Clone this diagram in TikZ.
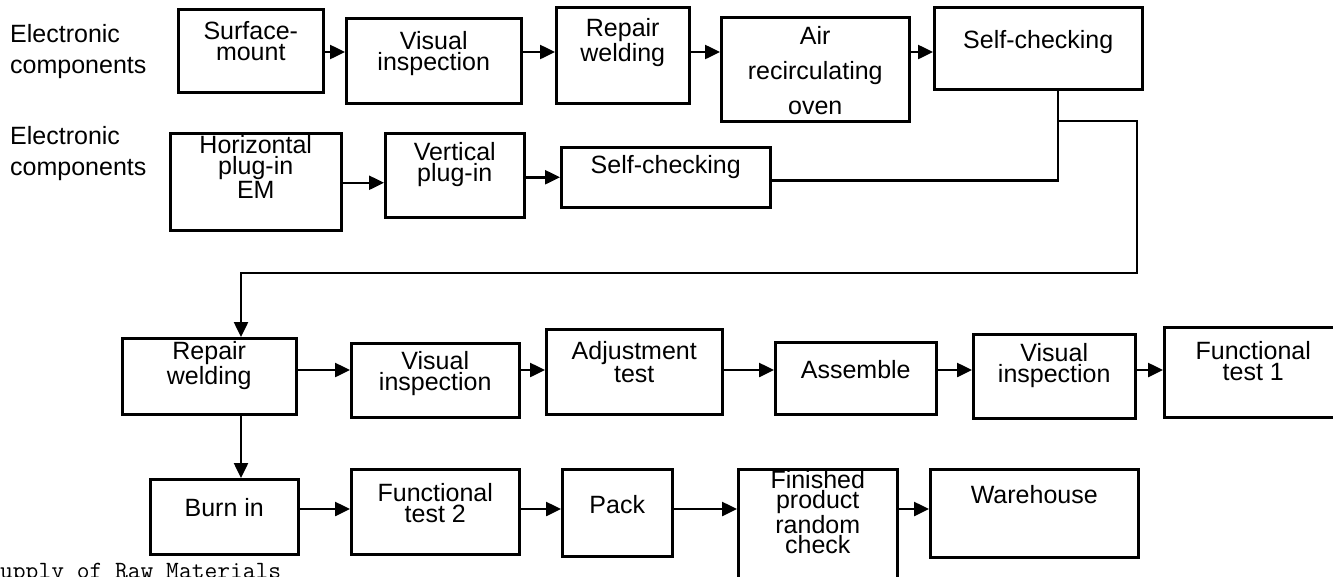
\documentclass[tikz,border=0pt]{standalone}
\usepackage{fontspec}
\setmainfont{Liberation Sans}
\usetikzlibrary{arrows.meta}

\begin{document}
\begin{tikzpicture}[x=1pt, y=-1pt,
        box/.style={draw, line width=2.5pt, inner sep=0pt, anchor=north west, align=center, font=\fontsize{25}{21}\selectfont},
        lab/.style={inner sep=0pt, anchor=base west, align=left, font=\fontsize{25}{31}\selectfont},
        link/.style={line width=2.5pt},
        arr/.style={line width=2.5pt, -{Triangle[length=15pt,width=14pt]}}]
        \useasboundingbox (0,0) rectangle (1333,576);

        % first line of boards
        \node[lab] (ec1) at (10,73) {Electronic\\components};
        \node[box, minimum width=145pt, text height=51pt, text depth=32pt] (smt) at (177,8) {Surface-\\mount};
        \node[box, minimum width=175pt, text height=52pt, text depth=33pt] (vis1) at (345,17) {Visual\\inspection};
        \node[box, minimum width=133pt, text height=54pt, text depth=42pt] (rw1) at (555,6) {Repair\\welding};
        \node[box, minimum width=188pt, text height=97pt, text depth=7pt, font=\fontsize{25}{35}\selectfont] (air) at (720,16) {Air\\recirculating\\oven};
        \node[box, minimum width=208pt, text height=41pt, text depth=41pt] (sc1) at (933,6) {Self-checking};

        % second line of boards
        \node[lab] (ec2) at (10,175) {Electronic\\components};
        \node[box, minimum width=171pt, text height=65pt, text depth=32pt] (hpi) at (169,132) {Horizontal\\plug-in\\EM};
        \node[box, minimum width=139pt, text height=48pt, text depth=36pt] (vpi) at (384,132) {Vertical\\plug-in};
        \node[box, minimum width=209pt, text height=26pt, text depth=34pt] (sc2) at (560,146) {Self-checking};

        % final assembly
        \node[box, minimum width=174pt, text height=46pt, text depth=30pt] (rw2) at (121,337) {Repair\\welding};
        \node[box, minimum width=168pt, text height=47pt, text depth=27pt] (vis2) at (350,342) {Visual\\inspection};
        \node[box, minimum width=176pt, text height=53pt, text depth=32pt] (adj) at (545,328) {Adjustment\\test};
        \node[box, minimum width=161pt, text height=36pt, text depth=36pt] (asm) at (774,341) {Assemble};
        \node[box, minimum width=162pt, text height=48pt, text depth=36pt] (vis3) at (972,333) {Visual\\inspection};
        \node[box, minimum width=178pt, text height=53pt, text depth=37pt] (ft1) at (1163,326) {Functional\\test 1};

        \node[box, minimum width=148pt, text height=37pt, text depth=38pt] (burn) at (149,478) {Burn in};
        \node[box, minimum width=168pt, text height=53pt, text depth=32pt] (ft2) at (350,468) {Functional\\test 2};
        \node[box, minimum width=110pt, text height=44pt, text depth=43pt] (pack) at (561,468) {Pack};
        \node[box, minimum width=159pt, text height=84pt, text depth=26pt, font=\fontsize{25}{20}\selectfont] (fin) at (737,468) {Finished\\product\\random\\check};
        \node[box, minimum width=208pt, text height=34pt, text depth=54pt] (ware) at (929,468) {Warehouse};

        \node[inner sep=0pt, anchor=base west, font=\fontsize{24.8}{26}\ttfamily] (raw) at (0,578) {upply of Raw Materials};

        \coordinate (r1) at (0,52);
        \coordinate (r3) at (0,370);
        \coordinate (r4) at (0,509);
        \coordinate (jn) at (1058,121);
        \coordinate (tr) at (1137,121);
        \coordinate (br) at (1137,273);
        \coordinate (dn) at (241,273);

        \draw[arr] (smt.east |- r1) -- (vis1.west |- r1);
        \draw[arr] (vis1.east |- r1) -- (rw1.west |- r1);
        \draw[arr] (rw1.east |- r1) -- (air.west |- r1);
        \draw[arr] (air.east |- r1) -- (sc1.west |- r1);

        \draw[arr] ([yshift=-1pt]hpi.east) -- ([yshift=-1pt]hpi.east -| vpi.west);
        \draw[arr] ([yshift=-2pt]vpi.east) -- ([yshift=-2pt]vpi.east -| sc2.west);

        \draw[link] (sc1.south -| jn) -- (jn) |- ([yshift=-3pt]sc2.east);
        \draw[arr] (jn) -- (tr) -- (br) -- (dn) -- (dn |- rw2.north);
        \draw[arr] (dn |- rw2.south) -- (dn |- burn.north);

        \draw[arr] (rw2.east |- r3) -- (vis2.west |- r3);
        \draw[arr] (vis2.east |- r3) -- (adj.west |- r3);
        \draw[arr] (adj.east |- r3) -- (asm.west |- r3);
        \draw[arr] (asm.east |- r3) -- (vis3.west |- r3);
        \draw[arr] (vis3.east |- r3) -- (ft1.west |- r3);

        \draw[arr] (burn.east |- r4) -- (ft2.west |- r4);
        \draw[arr] (ft2.east |- r4) -- (pack.west |- r4);
        \draw[arr] (pack.east |- r4) -- (fin.west |- r4);
        \draw[arr] (fin.east |- r4) -- (ware.west |- r4);

    \end{tikzpicture}
\end{document}
